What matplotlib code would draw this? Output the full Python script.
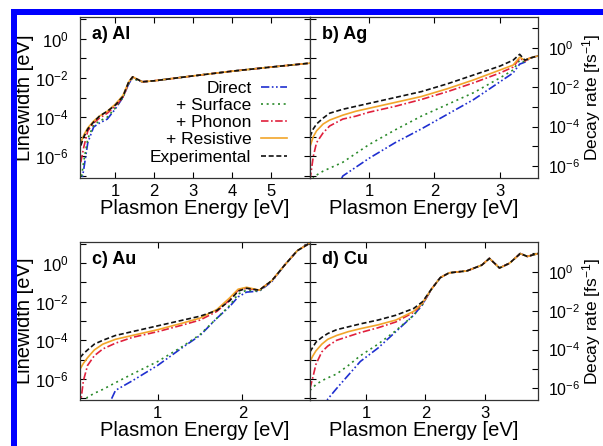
import numpy as np
import matplotlib
matplotlib.use("Agg")
from matplotlib import pyplot as plt
from matplotlib.patches import Rectangle
from matplotlib.ticker import FixedLocator, FuncFormatter, NullLocator

plt.rcParams["font.family"] = ["Liberation Sans", "DejaVu Sans"]
plt.rcParams["mathtext.fontset"] = "custom"
plt.rcParams["mathtext.rm"] = "Liberation Sans"
plt.rcParams["mathtext.it"] = "Liberation Sans:italic"
plt.rcParams["mathtext.bf"] = "Liberation Sans:bold"

# values are log10 of the linewidth in eV
AL_E = [0.12, 0.2, 0.3, 0.45, 0.6, 0.8, 1.0, 1.2, 1.35, 1.45, 1.55, 1.7, 2.0, 3.0, 4.0, 5.0, 6.0]
AL_DIRECT = [-7.6, -6.6, -5.3, -4.5, -4.3, -4.1, -3.6, -3.0, -2.3, -2.0, -2.1, -2.2, -2.15, -1.9, -1.66, -1.45, -1.25]
AL_SURFACE = [-7.3, -6.2, -5.1, -4.4, -4.2, -4.0, -3.55, -3.0, -2.3, -2.0, -2.1, -2.2, -2.15, -1.9, -1.66, -1.45, -1.25]
AL_PHONON = [-6.3, -5.5, -4.7, -4.3, -4.05, -3.8, -3.45, -3.0, -2.25, -1.95, -2.05, -2.2, -2.15, -1.9, -1.66, -1.45, -1.25]
AL_RESISTIVE = [-5.3, -4.9, -4.55, -4.2, -3.95, -3.7, -3.35, -2.9, -2.2, -1.95, -2.05, -2.2, -2.15, -1.9, -1.66, -1.45, -1.25]
AL_EXP = [-5.45, -5.0, -4.6, -4.25, -3.95, -3.7, -3.4, -2.95, -2.2, -1.95, -2.05, -2.2, -2.15, -1.9, -1.66, -1.45, -1.25]

AG_E = [0.1, 0.15, 0.2, 0.3, 0.4, 0.6, 0.8, 1.0, 1.4, 1.8, 2.2, 2.6, 3.0, 3.2, 3.3, 3.38, 3.45, 3.58]
AG_DIRECT = [-9.5, -9.3, -9.1, -8.8, -8.5, -7.0, -6.55, -6.1, -5.3, -4.6, -3.85, -3.1, -2.2, -1.75, -1.3, -1.2, -1.0, -0.88]
AG_SURFACE = [-7.4, -7.1, -6.95, -6.75, -6.6, -6.3, -5.85, -5.4, -4.65, -3.95, -3.35, -2.75, -2.0, -1.6, -1.1, -1.2, -1.0, -0.88]
AG_PHONON = [-7.2, -6.0, -5.3, -4.8, -4.45, -4.1, -3.95, -3.75, -3.45, -3.1, -2.7, -2.25, -1.75, -1.45, -1.0, -1.15, -1.0, -0.88]
AG_RESISTIVE = [-5.5, -5.0, -4.7, -4.35, -4.15, -3.9, -3.7, -3.55, -3.25, -2.95, -2.55, -2.1, -1.6, -1.35, -0.95, -1.1, -1.0, -0.88]
AG_EXP = [-5.0, -4.6, -4.35, -4.05, -3.8, -3.6, -3.45, -3.3, -3.0, -2.7, -2.3, -1.85, -1.4, -1.1, -0.8, -1.1, -1.0, -0.88]

AU_E = [0.08, 0.12, 0.17, 0.25, 0.35, 0.5, 0.7, 1.0, 1.3, 1.5, 1.7, 1.85, 1.95, 2.05, 2.2, 2.35, 2.5, 2.65, 2.8]
AU_DIRECT = [-9.5, -9.3, -9.0, -8.6, -8.0, -6.6, -6.1, -5.3, -4.35, -3.75, -2.85, -2.25, -1.75, -1.5, -1.45, -0.95, -0.1, 0.65, 1.05]
AU_SURFACE = [-7.5, -7.2, -6.95, -6.75, -6.55, -6.2, -5.75, -5.1, -4.3, -3.7, -2.85, -2.2, -1.6, -1.4, -1.45, -0.9, -0.1, 0.65, 1.05]
AU_PHONON = [-7.5, -6.1, -5.3, -4.8, -4.45, -4.15, -3.85, -3.55, -3.2, -2.95, -2.5, -1.9, -1.4, -1.3, -1.4, -0.9, -0.1, 0.65, 1.05]
AU_RESISTIVE = [-5.5, -5.2, -4.9, -4.5, -4.2, -3.95, -3.75, -3.45, -3.1, -2.85, -2.4, -1.8, -1.35, -1.25, -1.4, -0.9, -0.1, 0.65, 1.05]
AU_EXP = [-4.9, -4.7, -4.5, -4.2, -4.0, -3.75, -3.55, -3.25, -2.95, -2.75, -2.45, -1.95, -1.45, -1.3, -1.4, -0.9, -0.1, 0.65, 1.05]

CU_E = [0.05, 0.1, 0.15, 0.25, 0.35, 0.5, 0.7, 0.9, 1.2, 1.5, 1.8, 1.95, 2.1, 2.25, 2.4, 2.7, 2.95, 3.08, 3.25, 3.42, 3.6, 3.72, 3.9]
CU_DIRECT = [-9.5, -9.2, -8.9, -8.0, -7.05, -6.5, -5.8, -5.1, -4.4, -3.55, -2.7, -2.15, -1.35, -0.75, -0.5, -0.4, -0.1, 0.25, -0.25, 0.0, 0.5, 0.35, 0.5]
CU_SURFACE = [-6.6, -6.45, -6.3, -6.1, -5.95, -5.75, -5.3, -4.8, -4.2, -3.5, -2.7, -2.15, -1.35, -0.75, -0.5, -0.4, -0.1, 0.25, -0.25, 0.0, 0.5, 0.35, 0.5]
CU_PHONON = [-6.5, -5.9, -5.25, -4.6, -4.3, -4.0, -3.8, -3.6, -3.35, -3.05, -2.55, -2.1, -1.35, -0.75, -0.5, -0.4, -0.1, 0.25, -0.25, 0.0, 0.5, 0.35, 0.5]
CU_RESISTIVE = [-5.1, -4.8, -4.55, -4.2, -3.95, -3.75, -3.55, -3.4, -3.2, -2.95, -2.5, -2.05, -1.35, -0.75, -0.5, -0.4, -0.1, 0.25, -0.25, 0.0, 0.5, 0.35, 0.5]
CU_EXP = [-4.6, -4.35, -4.1, -3.85, -3.65, -3.45, -3.3, -3.15, -2.95, -2.7, -2.35, -2.0, -1.35, -0.75, -0.5, -0.4, -0.1, 0.25, -0.25, 0.0, 0.5, 0.35, 0.5]

SERIES_NAMES = ["Direct", "+ Surface", "+ Phonon", "+ Resistive", "Experimental"]
PANEL_TITLES = ["a) Al", "b) Ag", "c) Au", "d) Cu"]
X_LIMITS = [(0.1, 6.0), (0.1, 3.58), (0.08, 2.8), (0.05, 3.9)]
X_TICKS = [[1, 2, 3, 4, 5], [1, 2, 3], [1, 2], [1, 2, 3]]

# decay rate [fs^-1] per linewidth [eV]
RATE = 2 / 0.6582

STYLES = [
    dict(color="#1f2fd0", dashes=[5, 1.5, 1, 1.5, 1, 1.5]),
    dict(color="#2a8a2a", dashes=[1.2, 2.2]),
    dict(color="#e0203c", dashes=[4.5, 1.5, 1, 1.5]),
    dict(color="#f2a52a"),
    dict(color="#111111", dashes=[3, 1.6]),
]


def decade_label(v, pos):
    k = int(round(np.log10(v)))
    if k % 2:
        return ""
    return "$10^{%d}$" % k


def setup_axis(axis):
    axis.set_major_locator(FixedLocator([10.0 ** k for k in range(-9, 3)]))
    axis.set_minor_locator(NullLocator())


def main():
    fig = plt.figure(figsize=(6.03, 4.46), dpi=100)

    W, H = 603, 446
    # blue frame round the picture
    fig.add_artist(Rectangle((11 / W, 1 - 15 / H), 1, 6 / H, transform=fig.transFigure,
                             color="#0000ff", lw=0))
    fig.add_artist(Rectangle((11 / W, 0), 6 / W, 1 - 9 / H, transform=fig.transFigure,
                             color="#0000ff", lw=0))

    boxes = [(80, 17, 310, 178), (310, 17, 538, 178), (80, 242, 310, 400), (310, 242, 538, 400)]
    data = [
        (AL_E, [AL_DIRECT, AL_SURFACE, AL_PHONON, AL_RESISTIVE, AL_EXP]),
        (AG_E, [AG_DIRECT, AG_SURFACE, AG_PHONON, AG_RESISTIVE, AG_EXP]),
        (AU_E, [AU_DIRECT, AU_SURFACE, AU_PHONON, AU_RESISTIVE, AU_EXP]),
        (CU_E, [CU_DIRECT, CU_SURFACE, CU_PHONON, CU_RESISTIVE, CU_EXP]),
    ]

    for i, (box, (energy, series)) in enumerate(zip(boxes, data)):
        x0, y0, x1, y1 = box
        ax = fig.add_axes([x0 / W, 1 - y1 / H, (x1 - x0) / W, (y1 - y0) / H])
        for name, vals, st in zip(SERIES_NAMES, series, STYLES):
            ax.plot(energy, 10.0 ** np.array(vals), lw=1.2, label=name, **st)

        ax.set_yscale("log")
        ax.set_ylim(10 ** -7.1, 10 ** 1.1)
        ax.set_xlim(*X_LIMITS[i])
        ax.set_xticks(X_TICKS[i])
        setup_axis(ax.yaxis)
        ax.tick_params(direction="in", length=4.5, width=0.8, top=True,
                       labelsize=12, pad=4)
        for sp in ax.spines.values():
            sp.set_color("#333333")
            sp.set_linewidth(0.9)

        ax.set_xlabel("Plasmon Energy [eV]", fontsize=14.5)
        ax.xaxis.set_label_coords(0.5, -0.13)
        ax.text(0.052, 0.89, PANEL_TITLES[i], transform=ax.transAxes,
                fontsize=13, fontweight="bold", va="center", ha="left")

        if i % 2 == 0:
            ax.yaxis.set_major_formatter(FuncFormatter(decade_label))
            ax.tick_params(axis="y", right=True, pad=8)
            ax.set_ylabel("Linewidth [eV]", fontsize=14.5)
            ax.yaxis.set_label_coords(-0.2, 0.5)
        else:
            ax.tick_params(axis="y", labelleft=False)
            sec = ax.secondary_yaxis("right", functions=(lambda y: y * RATE, lambda r: r / RATE))
            setup_axis(sec.yaxis)
            sec.yaxis.set_major_formatter(FuncFormatter(decade_label))
            sec.tick_params(direction="in", length=4.5, width=0.8, labelsize=11.5, pad=7)
            sec.spines["right"].set_visible(False)
            sec.set_ylabel("Decay rate [fs$^{-1}$]", fontsize=12.5)
            # sec axes has zero width, so place the label in the parent's frame
            sec.yaxis.set_label_coords(1.234, 0.5, transform=ax.transAxes)
            sec.yaxis.label.set_verticalalignment("center")

        if i == 0:
            leg = ax.legend(loc="upper right", bbox_to_anchor=(0.9, 0.605), frameon=False,
                            markerfirst=False, fontsize=12.5, handlelength=1.5,
                            handletextpad=0.55, labelspacing=0.12, borderpad=0,
                            borderaxespad=0)
            for col in leg._legend_handle_box.get_children():
                col.align = "right"

    fig.savefig("out.png", dpi=100)


if __name__ == "__main__":
    main()
